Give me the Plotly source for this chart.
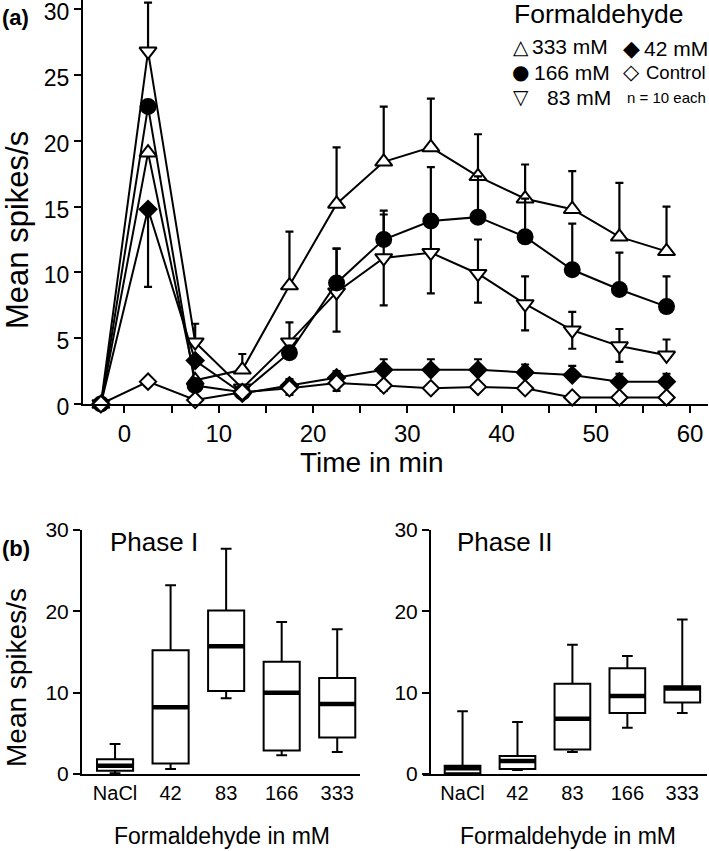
import plotly.graph_objects as go

# ---------------- data: panel (a) ----------------
time_min = [-2.5, 2.5, 7.5, 12.5, 17.5, 22.5, 27.5, 32.5, 37.5, 42.5, 47.5, 52.5, 57.5]

fa333 = [0, 19.1, 1.8, 2.6, 9.0, 15.2, 18.4, 19.5, 17.3, 15.6, 14.8, 12.7, 11.6]
fa333_up = [0, 0, 0, 1.2, 4.1, 4.3, 4.2, 3.7, 3.2, 2.6, 2.9, 4.1, 3.4]
fa333_dn = [0] * 13

fa166 = [0, 22.6, 1.4, 0.9, 3.9, 9.2, 12.5, 13.9, 14.2, 12.7, 10.2, 8.7, 7.4]
fa166_up = [0, 0, 0, 0, 0, 2.6, 2.2, 4.1, 3.1, 2.9, 3.5, 2.8, 2.3]
fa166_dn = [0] * 13

fa83 = [0, 26.8, 4.7, 1.2, 4.7, 8.5, 11.1, 11.5, 9.9, 7.6, 5.6, 4.4, 3.7]
fa83_up = [0, 3.7, 1.4, 0, 1.5, 3.3, 3.3, 2.5, 2.6, 2.1, 1.4, 1.3, 1.2]
fa83_dn = [0, 0, 0, 0, 0, 3.0, 3.6, 3.1, 2.2, 2.0, 1.4, 1.2, 0]

fa42 = [0, 14.8, 3.3, 0.8, 1.4, 2.0, 2.6, 2.6, 2.6, 2.4, 2.2, 1.7, 1.7]
fa42_up = [0, 0, 0, 0, 0.5, 0.5, 0.8, 0.8, 0.8, 0.6, 0.7, 0.6, 0.6]
fa42_dn = [0, 5.9, 0, 0, 0, 0, 0, 0, 0, 0, 0, 0, 0]

ctrl = [0, 1.7, 0.3, 0.9, 1.2, 1.6, 1.4, 1.2, 1.3, 1.2, 0.5, 0.5, 0.5]
ctrl_up = [0] * 13
ctrl_dn = [0, 0, 0, 0, 0.5, 0.6, 0.4, 0, 0, 0, 0, 0, 0]

xa_tickvals = [0, 5, 10, 15, 20, 25, 30, 35, 40, 45, 50, 55, 60]
xa_ticktext = ["0", "", "10", "", "20", "", "30", "", "40", "", "50", "", "60"]
ya_tickvals = [0, 5, 10, 15, 20, 25, 30]

# ---------------- data: panel (b) ----------------
groups = ["NaCl", "42", "83", "166", "333"]

p1_low = [0.1, 0.6, 9.3, 2.3, 2.7]
p1_q1 = [0.4, 1.3, 10.2, 2.9, 4.5]
p1_med = [1.0, 8.2, 15.7, 10.0, 8.6]
p1_q3 = [1.8, 15.2, 20.1, 13.8, 11.8]
p1_high = [3.7, 23.2, 27.7, 18.7, 17.8]

p2_low = [0.0, 0.5, 2.7, 5.7, 7.5]
p2_q1 = [0.1, 0.6, 3.0, 7.5, 8.8]
p2_med = [0.7, 1.6, 6.8, 9.6, 10.5]
p2_q3 = [1.0, 2.2, 11.1, 13.0, 10.8]
p2_high = [7.7, 6.4, 15.9, 14.5, 19.0]

yb_tickvals = [0, 10, 20, 30]

# ---------------- figure ----------------
W, H = 709, 851
FONT = "Liberation Sans, Arial, Helvetica, sans-serif"
SYMFONT = "DejaVu Sans, sans-serif"
BLACK = "black"

fig = go.Figure()

series = [
    ("333 mM", fa333, fa333_up, fa333_dn, "triangle-up", "white", 15),
    ("83 mM", fa83, fa83_up, fa83_dn, "triangle-down", "white", 15),
    ("166 mM", fa166, fa166_up, fa166_dn, "circle", BLACK, 15),
    ("42 mM", fa42, fa42_up, fa42_dn, "diamond", BLACK, 13),
    ("Control", ctrl, ctrl_up, ctrl_dn, "diamond", "white", 12.5),
]
for name, y, up, dn, sym, fill, size in series:
    fig.add_trace(go.Scatter(
        x=time_min, y=y, name=name, mode="lines+markers",
        line=dict(color=BLACK, width=2),
        marker=dict(symbol=sym, size=size, color=fill,
                    line=dict(color=BLACK, width=2)),
        error_y=dict(type="data", symmetric=False, array=up, arrayminus=dn,
                     color=BLACK, thickness=2.2, width=4),
        cliponaxis=False, showlegend=False,
        xaxis="x", yaxis="y",
    ))


def add_boxes(xax, yax, low, q1, med, q3, high):
    pos = list(range(len(groups)))
    fig.add_trace(go.Box(
        x=pos, q1=q1, median=med, q3=q3, lowerfence=low, upperfence=high,
        width=0.65, whiskerwidth=0.3, fillcolor="white",
        line=dict(color=BLACK, width=2), boxpoints=False,
        showlegend=False, hoverinfo="skip", xaxis=xax, yaxis=yax,
    ))
    fig.add_trace(go.Scatter(
        x=pos, y=med, mode="markers",
        marker=dict(symbol="line-ew", size=25.5,
                    line=dict(color=BLACK, width=4.5)),
        showlegend=False, cliponaxis=False, xaxis=xax, yaxis=yax,
    ))


add_boxes("x2", "y2", p1_low, p1_q1, p1_med, p1_q3, p1_high)
add_boxes("x3", "y3", p2_low, p2_q1, p2_med, p2_q3, p2_high)

axis_common = dict(showline=True, linewidth=2, linecolor=BLACK, ticks="outside",
                   tickwidth=2, tickcolor=BLACK, ticklen=7, showgrid=False,
                   zeroline=False, color=BLACK, automargin=False,
                   ticklabeloverflow="allow")

px = lambda v: v / W
py = lambda v: 1 - v / H

fig.update_layout(
    width=W, height=H, autosize=False,
    margin=dict(l=0, r=0, t=0, b=0, pad=0, autoexpand=False),
    paper_bgcolor="white", plot_bgcolor="white",
    font=dict(family=FONT, color=BLACK),
    xaxis=dict(axis_common, domain=[px(83), px(708)], range=[-4.4, 61.9],
               tickvals=xa_tickvals, ticktext=xa_ticktext,
               tickfont=dict(size=24), anchor="y"),
    yaxis=dict(axis_common, domain=[py(404), py(0)], range=[0, 30.7],
               tickvals=ya_tickvals, tickfont=dict(size=23), anchor="x",
               ticklabelshift=3),
    xaxis2=dict(axis_common, domain=[px(82), px(360)], range=[-0.595, 4.41],
                tickvals=list(range(len(groups))), ticktext=groups, ticks="",
                tickfont=dict(size=20), anchor="y2"),
    yaxis2=dict(axis_common, domain=[py(774), py(530)], range=[0, 30],
                tickvals=yb_tickvals, tickfont=dict(size=21), anchor="x2"),
    xaxis3=dict(axis_common, domain=[px(423), px(707)], range=[-0.72, 4.45],
                tickvals=list(range(len(groups))), ticktext=groups, ticks="",
                tickfont=dict(size=20), anchor="y3"),
    yaxis3=dict(axis_common, domain=[py(774), py(530)], range=[0, 30],
                tickvals=yb_tickvals, tickfont=dict(size=21), anchor="free",
                position=px(430)),
)

ann = []


def A(x, y, text, size, xanchor="center", angle=0, bold=False, family=FONT):
    ann.append(dict(x=px(x), y=py(y), xref="paper", yref="paper",
                    text=("<b>%s</b>" % text if bold else text),
                    showarrow=False, xanchor=xanchor, yanchor="middle",
                    textangle=angle, font=dict(size=size, family=family, color=BLACK)))


A(0, 18, "(a)", 22, xanchor="left", bold=True)
A(0, 548, "(b)", 22, xanchor="left", bold=True)
A(372, 462, "Time in min", 28)
A(17, 230, "Mean spikes/s", 31, angle=-90)
A(16, 678, "Mean spikes/s", 28, angle=-90)
A(222, 836, "Formaldehyde in mM", 23)
A(568, 836, "Formaldehyde in mM", 23)
A(108, 542, "Phase I", 26, xanchor="left")
A(455, 542, "Phase II", 26, xanchor="left")
# legend (text glyphs)
A(598, 14, "Formaldehyde", 26.5)
A(520.5, 47, "△", 20, family=SYMFONT)
A(520.5, 72, "●", 20, family=SYMFONT)
A(520.5, 97, "▽", 20, family=SYMFONT)
A(631, 48, "◆", 22, family=SYMFONT)
A(631.5, 72, "◇", 21, family=SYMFONT)
A(530, 47, "333 mM", 21, xanchor="left")
A(532, 72, "166 mM", 21, xanchor="left")
A(545, 97, "83 mM", 21, xanchor="left")
A(642, 48, "42 mM", 21, xanchor="left")
A(644, 72, "Control", 18.5, xanchor="left")
A(625, 97, "n = 10 each", 15, xanchor="left")

fig.update_layout(annotations=ann)
fig.write_html("out.html", config={"displayModeBar": False},
               post_script="document.body.style.margin='0';document.body.style.overflow='hidden';")
